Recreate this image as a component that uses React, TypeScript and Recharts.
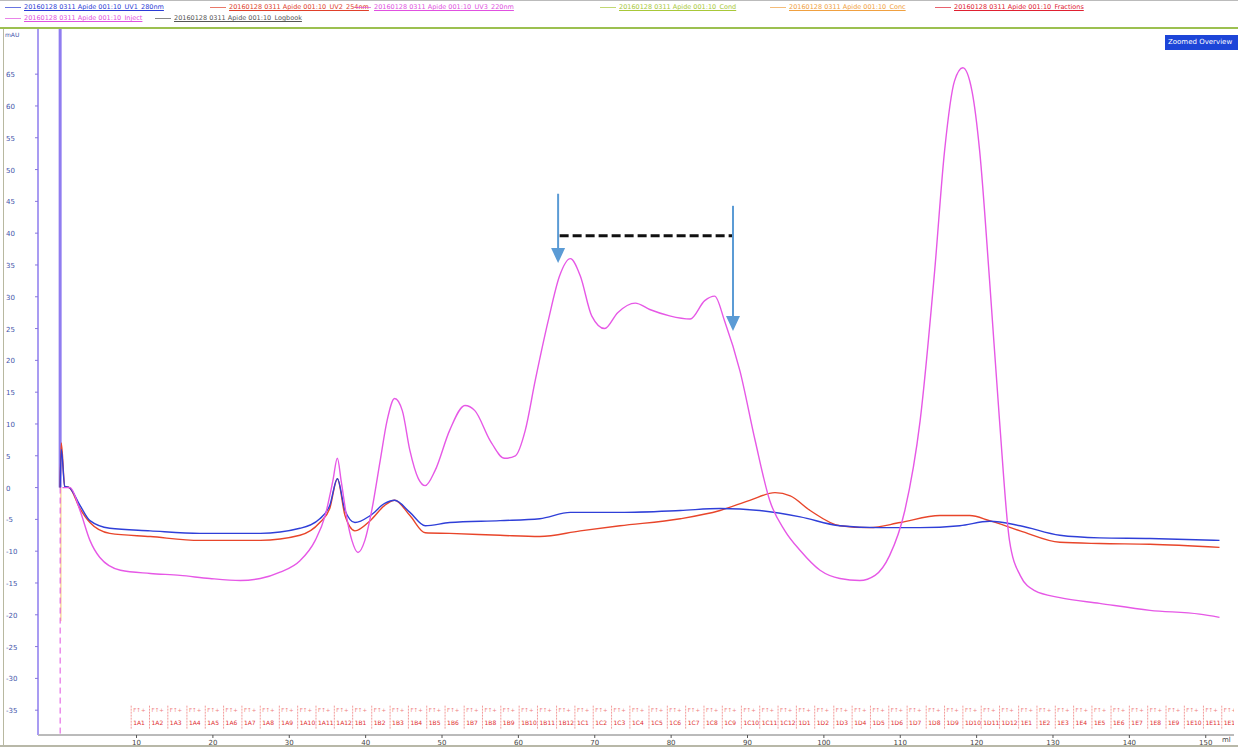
import React from "react";
import {
  ComposedChart,
  Line,
  Scatter,
  XAxis,
  YAxis,
  ReferenceLine,
  ReferenceDot,
} from "recharts";

// chromatogram traces, ml vs mAU
const uv280 = [
  { ml: 0.0, mau: 0 }, { ml: 0.15, mau: 6.0 }, { ml: 0.6, mau: 0.2 }, { ml: 1.2, mau: 0.0 },
  { ml: 2.6, mau: -2.8 }, { ml: 3.9, mau: -5.2 }, { ml: 6.5, mau: -6.4 }, { ml: 11.8, mau: -6.8 },
  { ml: 18.3, mau: -7.2 }, { ml: 26.2, mau: -7.2 }, { ml: 31.4, mau: -6.4 }, { ml: 34.0, mau: -4.9 },
  { ml: 35.3, mau: -2.8 }, { ml: 36.3, mau: 1.4 }, { ml: 37.3, mau: -3.6 }, { ml: 38.6, mau: -5.5 },
  { ml: 40.6, mau: -4.4 }, { ml: 42.5, mau: -2.5 }, { ml: 43.8, mau: -2.0 }, { ml: 45.8, mau: -3.9 },
  { ml: 47.8, mau: -6.0 }, { ml: 51.0, mau: -5.5 }, { ml: 57.6, mau: -5.2 }, { ml: 62.8, mau: -4.9 },
  { ml: 66.8, mau: -3.9 }, { ml: 73.3, mau: -3.9 }, { ml: 81.2, mau: -3.6 }, { ml: 86.4, mau: -3.3 },
  { ml: 91.6, mau: -3.6 }, { ml: 96.9, mau: -4.6 }, { ml: 102.1, mau: -6.0 }, { ml: 107.3, mau: -6.3 },
  { ml: 112.6, mau: -6.3 }, { ml: 117.8, mau: -6.0 }, { ml: 121.7, mau: -5.3 }, { ml: 125.7, mau: -6.0 },
  { ml: 130.9, mau: -7.5 }, { ml: 136.1, mau: -7.9 }, { ml: 142.7, mau: -8.0 }, { ml: 151.8, mau: -8.3 },
];

const uv254 = [
  { ml: 0.0, mau: 0 }, { ml: 0.15, mau: 7.0 }, { ml: 0.6, mau: 0.2 }, { ml: 1.2, mau: 0.0 },
  { ml: 2.6, mau: -3.3 }, { ml: 3.9, mau: -5.5 }, { ml: 6.5, mau: -7.2 }, { ml: 11.8, mau: -7.7 },
  { ml: 18.3, mau: -8.3 }, { ml: 26.2, mau: -8.3 }, { ml: 31.4, mau: -7.5 }, { ml: 34.0, mau: -5.5 },
  { ml: 35.3, mau: -3.3 }, { ml: 36.3, mau: 1.4 }, { ml: 37.3, mau: -4.4 }, { ml: 38.6, mau: -6.8 },
  { ml: 40.6, mau: -5.2 }, { ml: 42.5, mau: -2.8 }, { ml: 43.8, mau: -2.0 }, { ml: 45.8, mau: -4.4 },
  { ml: 47.8, mau: -7.1 }, { ml: 51.0, mau: -7.2 }, { ml: 57.6, mau: -7.5 }, { ml: 62.8, mau: -7.7 },
  { ml: 68.1, mau: -6.8 }, { ml: 73.3, mau: -6.0 }, { ml: 81.2, mau: -4.9 }, { ml: 86.4, mau: -3.6 },
  { ml: 90.3, mau: -2.0 }, { ml: 93.6, mau: -0.8 }, { ml: 95.6, mau: -1.3 }, { ml: 98.2, mau: -3.6 },
  { ml: 102.1, mau: -6.0 }, { ml: 106.0, mau: -6.3 }, { ml: 110.0, mau: -5.5 }, { ml: 115.2, mau: -4.4 },
  { ml: 119.1, mau: -4.4 }, { ml: 121.7, mau: -5.2 }, { ml: 125.7, mau: -6.8 }, { ml: 130.9, mau: -8.6 },
  { ml: 136.1, mau: -8.8 }, { ml: 142.7, mau: -8.9 }, { ml: 151.8, mau: -9.4 },
];

const uv220 = [
  { ml: 0.3, mau: 0 }, { ml: 1.3, mau: 0.0 }, { ml: 2.6, mau: -3.6 }, { ml: 3.9, mau: -8.3 },
  { ml: 5.2, mau: -11.0 }, { ml: 7.9, mau: -13.0 }, { ml: 11.8, mau: -13.5 }, { ml: 15.7, mau: -13.8 },
  { ml: 19.6, mau: -14.3 }, { ml: 23.6, mau: -14.6 }, { ml: 26.2, mau: -14.3 }, { ml: 28.8, mau: -13.3 },
  { ml: 31.4, mau: -11.5 }, { ml: 33.4, mau: -8.3 }, { ml: 34.7, mau: -4.4 }, { ml: 35.7, mau: 1.0 },
  { ml: 36.3, mau: 4.6 }, { ml: 36.8, mau: 1.0 }, { ml: 37.6, mau: -5.2 }, { ml: 38.2, mau: -8.3 },
  { ml: 39.0, mau: -10.2 }, { ml: 39.9, mau: -8.3 }, { ml: 40.8, mau: -3.6 }, { ml: 41.9, mau: 4.2 },
  { ml: 42.8, mau: 10.5 }, { ml: 43.8, mau: 14.0 }, { ml: 44.8, mau: 12.1 }, { ml: 45.8, mau: 5.8 },
  { ml: 46.9, mau: 1.4 }, { ml: 47.8, mau: 0.3 }, { ml: 49.1, mau: 2.7 }, { ml: 51.0, mau: 9.0 },
  { ml: 53.0, mau: 12.9 }, { ml: 54.3, mau: 12.1 }, { ml: 56.3, mau: 7.4 }, { ml: 58.2, mau: 4.6 },
  { ml: 59.6, mau: 5.0 }, { ml: 60.9, mau: 9.0 }, { ml: 62.2, mau: 16.8 }, { ml: 63.9, mau: 26.2 },
  { ml: 65.4, mau: 33.3 }, { ml: 66.8, mau: 36.0 }, { ml: 68.1, mau: 33.3 }, { ml: 69.6, mau: 27.0 },
  { ml: 71.3, mau: 25.0 }, { ml: 73.0, mau: 27.5 }, { ml: 75.3, mau: 29.0 }, { ml: 77.2, mau: 28.0 },
  { ml: 79.8, mau: 27.0 }, { ml: 82.5, mau: 26.5 }, { ml: 84.4, mau: 29.4 }, { ml: 85.7, mau: 30.1 },
  { ml: 87.0, mau: 26.2 }, { ml: 89.0, mau: 18.4 }, { ml: 91.0, mau: 7.4 }, { ml: 92.9, mau: -2.0 },
  { ml: 94.9, mau: -6.8 }, { ml: 96.9, mau: -9.9 }, { ml: 99.5, mau: -13.0 }, { ml: 102.1, mau: -14.3 },
  { ml: 104.7, mau: -14.6 }, { ml: 106.7, mau: -13.8 }, { ml: 108.6, mau: -10.7 }, { ml: 110.6, mau: -3.6 },
  { ml: 112.6, mau: 10.5 }, { ml: 114.5, mau: 34.0 }, { ml: 115.8, mau: 52.9 }, { ml: 117.1, mau: 63.9 },
  { ml: 118.2, mau: 66.0 }, { ml: 119.4, mau: 62.3 }, { ml: 120.4, mau: 52.9 }, { ml: 121.7, mau: 32.5 },
  { ml: 123.0, mau: 10.5 }, { ml: 124.3, mau: -8.3 }, { ml: 125.7, mau: -13.8 }, { ml: 127.6, mau: -16.2 },
  { ml: 130.9, mau: -17.3 }, { ml: 136.1, mau: -18.2 }, { ml: 142.7, mau: -19.3 }, { ml: 149.2, mau: -19.9 },
  { ml: 151.8, mau: -20.4 },
];

const fractionMl = [
  9.3, 11.7, 14.1, 16.6, 19.0, 21.4, 23.8, 26.2, 28.7, 31.1, 33.5, 35.9, 38.3, 40.8, 43.2,
  45.6, 48.0, 50.4, 52.9, 55.3, 57.7, 60.1, 62.5, 65.0, 67.4, 69.8, 72.2, 74.6, 77.1, 79.5,
  81.9, 84.3, 86.7, 89.2, 91.6, 94.0, 96.4, 98.8, 101.3, 103.7, 106.1, 108.5, 110.9, 113.4, 115.8,
  118.2, 120.6, 123.0, 125.5, 127.9, 130.3, 132.7, 135.1, 137.6, 140.0, 142.4, 144.8, 147.2, 149.7, 152.1,
];
const fractionNames = [
  "1A1", "1A2", "1A3", "1A4", "1A5", "1A6", "1A7", "1A8", "1A9", "1A10", "1A11", "1A12",
  "1B1", "1B2", "1B3", "1B4", "1B5", "1B6", "1B7", "1B8", "1B9", "1B10", "1B11", "1B12",
  "1C1", "1C2", "1C3", "1C4", "1C5", "1C6", "1C7", "1C8", "1C9", "1C10", "1C11", "1C12",
  "1D1", "1D2", "1D3", "1D4", "1D5", "1D6", "1D7", "1D8", "1D9", "1D10", "1D11", "1D12",
  "1E1", "1E2", "1E3", "1E4", "1E5", "1E6", "1E7", "1E8", "1E9", "1E10", "1E11", "1E12",
];

const xTicks = [10, 20, 30, 40, 50, 60, 70, 80, 90, 100, 110, 120, 130, 140, 150];
const yTicks = [-35, -30, -25, -20, -15, -10, -5, 0, 5, 10, 15, 20, 25, 30, 35, 40, 45, 50, 55, 60, 65];

const legendRow1 = [
  { x: 5, color: "#2a3bd6", text: "20160128 0311 Apide 001:10_UV1_280nm" },
  { x: 210, color: "#e0402a", text: "20160128 0311 Apide 001:10_UV2_254nm" },
  { x: 355, color: "#e050e0", text: "20160128 0311 Apide 001:10_UV3_220nm" },
  { x: 600, color: "#a8c838", text: "20160128 0311 Apide 001:10_Cond" },
  { x: 770, color: "#f0a040", text: "20160128 0311 Apide 001:10_Conc" },
  { x: 935, color: "#e02030", text: "20160128 0311 Apide 001:10_Fractions" },
];
const legendRow2 = [
  { x: 5, color: "#e050e0", text: "20160128 0311 Apide 001:10_Inject" },
  { x: 155, color: "#555555", text: "20160128 0311 Apide 001:10_Logbook" },
];

const FRACTION_ROW = -36.8;
const fractionData = fractionMl.map((ml, i) => ({ ml, mau: FRACTION_ROW, name: fractionNames[i] }));

function FractionMark(props: any) {
  const { cx, cy, payload } = props;
  return (
    <g>
      <line x1={cx} y1={cy - 16} x2={cx} y2={cy + 8} stroke="#f08080" strokeWidth={0.8} strokeDasharray="2 1" />
      <text x={cx + 2} y={cy - 10} fontSize={5.5} fill="#f08080" fontFamily="DejaVu Sans">
        {"F\u2191+"}
      </text>
      <text x={cx + 2} y={cy + 3} fontSize={6} fill="#e03030" fontFamily="DejaVu Sans">
        {payload.name}
      </text>
    </g>
  );
}

function ArrowHead(props: any) {
  const { cx, cy } = props;
  return <polygon points={`${cx - 7},${cy - 15} ${cx + 7},${cy - 15} ${cx},${cy}`} fill="#5b9bd5" />;
}

function YTick(props: any) {
  const { y, payload } = props;
  return (
    <text x={6} y={y + 3} fontSize={7} fill="#4455aa" fontFamily="DejaVu Sans">
      {payload.value}
    </text>
  );
}

function Legend() {
  const row = (items: typeof legendRow1, top: number) =>
    items.map((it) => (
      <div key={it.text} style={{ position: "absolute", left: it.x, top, display: "flex", alignItems: "center" }}>
        <div style={{ width: 16, borderTop: `1px solid ${it.color}`, marginRight: 3, opacity: 0.7 }} />
        <span style={{ color: it.color, textDecoration: "underline", fontSize: 6.5, whiteSpace: "nowrap" }}>{it.text}</span>
      </div>
    ));
  return (
    <>
      {row(legendRow1, 3)}
      {row(legendRow2, 14)}
    </>
  );
}

export default function App() {
  return (
    <div
      style={{
        position: "absolute",
        left: 0,
        top: 0,
        width: 1238,
        height: 749,
        background: "#fff",
        fontFamily: "DejaVu Sans, sans-serif",
        overflow: "hidden",
      }}
    >
      <div style={{ position: "absolute", left: 0, top: 0, width: 1238, height: 1, background: "#bbb" }} />
      <div style={{ position: "absolute", left: 3, top: 28, width: 1, height: 718, background: "#b8b8a0" }} />
      <div style={{ position: "absolute", left: 0, top: 745, width: 1238, height: 2, background: "#b8b8a8" }} />
      <div style={{ position: "absolute", left: 0, top: 27, width: 1238, height: 2, background: "#9cc050" }} />
      <Legend />
      <ComposedChart width={1238} height={749} margin={{ top: 29, right: 4, bottom: 0, left: 0 }}>
        <XAxis
          dataKey="ml"
          type="number"
          domain={[-2.9, 153.7]}
          ticks={xTicks}
          allowDataOverflow
          height={14}
          tick={{ fontSize: 7, fill: "#444" }}
          tickSize={3}
          axisLine={{ stroke: "#777" }}
          tickLine={{ stroke: "#555" }}
        />
        <YAxis
          type="number"
          domain={[-38.9, 72.1]}
          ticks={yTicks}
          allowDataOverflow
          width={38}
          tick={<YTick />}
          tickSize={3}
          axisLine={{ stroke: "#a99cf2", strokeWidth: 2 }}
          tickLine={{ stroke: "#8877dd" }}
        />
        <ReferenceLine segment={[{ x: 0, y: 0 }, { x: 0, y: 72.1 }]} stroke="#8f7cf0" strokeWidth={3} />
        <ReferenceLine segment={[{ x: 0.1, y: 0 }, { x: 0.1, y: -21 }]} stroke="#f5c070" strokeWidth={1} />
        <ReferenceLine segment={[{ x: 0, y: 0 }, { x: 0, y: -38.9 }]} stroke="#e050e0" strokeDasharray="6 4" />
        <Scatter data={fractionData} dataKey="mau" shape={<FractionMark />} isAnimationActive={false} />
        <Line data={uv254} dataKey="mau" type="monotone" stroke="#e8452a" strokeWidth={1.4} dot={false} isAnimationActive={false} />
        <Line data={uv280} dataKey="mau" type="monotone" stroke="#2f3fd8" strokeWidth={1.4} dot={false} isAnimationActive={false} />
        <Line data={uv220} dataKey="mau" type="monotone" stroke="#e658e6" strokeWidth={1.4} dot={false} isAnimationActive={false} />
        <ReferenceLine segment={[{ x: 65.4, y: 39.6 }, { x: 88.1, y: 39.6 }]} stroke="#111" strokeWidth={3} strokeDasharray="9 4" />
        <ReferenceLine segment={[{ x: 65.2, y: 46.2 }, { x: 65.2, y: 37.0 }]} stroke="#5b9bd5" strokeWidth={2} />
        <ReferenceDot x={65.2} y={35.3} r={1} shape={<ArrowHead />} />
        <ReferenceLine segment={[{ x: 88.1, y: 44.3 }, { x: 88.1, y: 26.5 }]} stroke="#5b9bd5" strokeWidth={2} />
        <ReferenceDot x={88.1} y={24.6} r={1} shape={<ArrowHead />} />
      </ComposedChart>
      <div style={{ position: "absolute", left: 5, top: 31, fontSize: 6, color: "#4455aa" }}>mAU</div>
      <div style={{ position: "absolute", left: 1222, top: 736, fontSize: 7, color: "#444" }}>ml</div>
      <div
        style={{
          position: "absolute",
          left: 1165,
          top: 35,
          width: 73,
          height: 15,
          background: "#1d45d8",
          color: "#fff",
          fontSize: 7,
          lineHeight: "15px",
          paddingLeft: 3,
          boxSizing: "border-box",
          whiteSpace: "nowrap",
          overflow: "hidden",
        }}
      >
        Zoomed Overview
      </div>
    </div>
  );
}
